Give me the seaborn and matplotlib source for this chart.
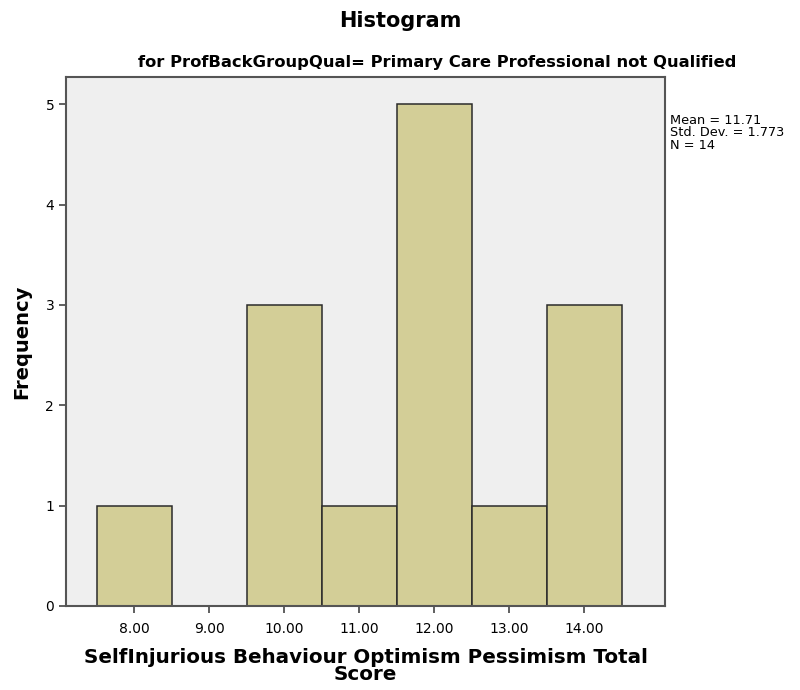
import pandas as pd
import matplotlib.pyplot as plt
import seaborn as sns

scores = [8, 9, 10, 11, 12, 13, 14]
counts = [1, 0, 3, 1, 5, 1, 3]
stats_text = ['Mean = 11.71', 'Std. Dev. = 1.773', 'N = 14']

data = pd.DataFrame({'Score': scores, 'Count': counts})

sns.set_style('white')
plt.rcParams['font.family'] = ['DejaVu Sans']
plt.rcParams['text.color'] = 'black'
plt.rcParams['axes.labelcolor'] = 'black'
plt.rcParams['xtick.color'] = 'black'
plt.rcParams['ytick.color'] = 'black'

fig = plt.figure(figsize=(8, 6.9), dpi=100)
ax = fig.add_axes([0.0825, 0.122, 0.749, 0.766])
ax.set_facecolor('#efefef')

sns.histplot(data=data, x='Score', weights='Count', discrete=True,
             color='#d3ce97', alpha=1, edgecolor='#2b2b2b', linewidth=1.1,
             ax=ax)

ax.set_xlim(7.09, 15.08)
ax.set_ylim(0, 5.27)
ax.set_xticks(scores)
ax.set_xticklabels([f'{s:.2f}' for s in scores])
ax.set_yticks(range(6))
ax.tick_params(axis='both', direction='out', length=5, width=1.2,
               color='#444444', labelsize=10, bottom=True, left=True)
ax.tick_params(axis='x', pad=7)

for s in ax.spines.values():
    s.set_color('#555555')
    s.set_linewidth(1.5)

ax.set_xlabel('SelfInjurious Behaviour Optimism Pessimism Total\nScore',
              fontsize=14.3, fontweight='bold', linespacing=0.9, labelpad=8)
ax.set_ylabel('Frequency', fontsize=14, fontweight='bold', labelpad=10)

fig.text(0.5, 0.97, 'Histogram', ha='center', va='center',
         fontsize=15, fontweight='bold')
fig.text(0.546, 0.91,
         'for ProfBackGroupQual= Primary Care Professional not Qualified',
         ha='center', va='center', fontsize=11.8, fontweight='bold')
fig.text(0.837, 0.835, '\n'.join(stats_text), ha='left', va='top',
         fontsize=9.3, linespacing=0.95)

fig.savefig('out.png', dpi=100)
